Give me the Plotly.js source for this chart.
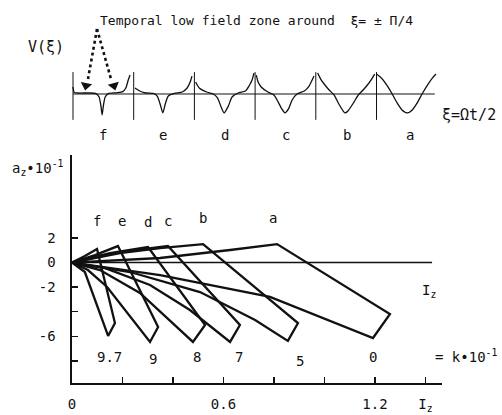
<!DOCTYPE html>
<html><head><meta charset="utf-8">
<script src="https://cdn.plot.ly/plotly-3.0.1.min.js"></script>
<style>html,body{margin:0;padding:0;background:#fff}#chart{width:502px;height:415px}</style>
</head><body><div id="chart"></div>
<script>
// ---------- top panel: V(xi) waveforms, one panel per case (u = position within panel, v = V) ----------
const panelNames = ['f', 'e', 'd', 'c', 'b', 'a'];
const fU = [0, 0.02, 0.08, 0.25, 0.38, 0.43, 0.46, 0.48, 0.50, 0.53, 0.58, 0.72, 0.82, 0.87, 0.91, 0.94];
const fV = [0.35, 0.08, 0.05, 0.05, 0.02, -0.15, -0.6, -1.05, -0.6, -0.15, 0.02, 0.06, 0.12, 0.3, 0.7, 0.95];
const eU = [0.02, 0.1, 0.2, 0.34, 0.39, 0.44, 0.48, 0.52, 0.57, 0.67, 0.8, 0.88, 0.93, 0.96];
const eV = [0.3, 0.15, 0.05, 0.02, -0.12, -0.55, -0.95, -0.5, -0.1, 0.03, 0.1, 0.3, 0.6, 0.9];
const dU = [0.02, 0.08, 0.2, 0.31, 0.38, 0.44, 0.49, 0.56, 0.62, 0.72, 0.84, 0.9, 0.95, 0.98];
const dV = [0.6, 0.3, 0.1, 0.0, -0.2, -0.65, -0.95, -0.6, -0.15, 0.05, 0.15, 0.4, 0.7, 1.05];
const cU = [0.02, 0.05, 0.1, 0.21, 0.31, 0.37, 0.44, 0.49, 0.55, 0.61, 0.69, 0.81, 0.89, 0.94, 0.97];
const cV = [0.95, 0.6, 0.35, 0.1, -0.05, -0.35, -0.75, -0.95, -0.75, -0.3, 0.0, 0.15, 0.4, 0.7, 0.9];
const bU = [0.03, 0.08, 0.15, 0.22, 0.3, 0.38, 0.45, 0.48, 0.53, 0.62, 0.7, 0.78, 0.85, 0.92, 0.97];
const bV = [1.05, 0.75, 0.45, 0.2, -0.05, -0.5, -0.85, -0.95, -0.85, -0.45, -0.05, 0.2, 0.45, 0.75, 1.0];
const aU = [0, 0.08, 0.17, 0.25, 0.34, 0.42, 0.51, 0.59, 0.66, 0.75, 0.85, 0.92, 0.98];
const aV = [1.0, 0.8, 0.45, 0.05, -0.45, -0.8, -0.95, -0.8, -0.5, 0.0, 0.5, 0.8, 1.0];

// ---------- bottom panel: a_z*10^-1 versus I_z, one closed contour per k ----------
const kLabels = ['9.7', '9', '8', '7', '5', '0'];
const fX = [0, 0.051, 0.099, 0.170, 0.143, 0.051, 0];
const fY = [0, 0.53, 1.10, -4.92, -5.97, -0.77, 0];
const eX = [0, 0.091, 0.182, 0.341, 0.309, 0.139, 0.063, 0];
const eY = [0, 0.61, 1.34, -5.24, -6.46, -1.99, -0.61, 0];
const dX = [0, 0.150, 0.301, 0.527, 0.479, 0.269, 0.111, 0];
const dY = [0, 0.77, 1.26, -5.08, -6.46, -2.48, -0.61, 0];
const cX = [0, 0.190, 0.380, 0.665, 0.626, 0.467, 0.309, 0.131, 0];
const cY = [0, 0.85, 1.34, -5.08, -6.46, -3.86, -1.83, -0.45, 0];
const bX = [0, 0.190, 0.349, 0.519, 0.895, 0.855, 0.725, 0.507, 0.230, 0];
const bY = [0, 0.77, 1.18, 1.50, -4.92, -6.37, -4.67, -2.40, -0.77, 0];
const aX = [0, 0.349, 0.626, 0.812, 1.259, 1.192, 0.784, 0.349, 0];
const aY = [0, 0.37, 1.02, 1.50, -4.19, -6.14, -2.80, -1.02, 0];

const xTickVals = [0, 0.6, 1.2, 1.4];
const xTickText = ['0', '0.6', '1.2', 'I<sub>z</sub>'];
const xMinorVals = [0.2, 0.4, 0.8, 1.0];
const yTickVals = [-6, -2, 0, 2];
const yTickText = ['-6', '-2', '0', '2'];
const yMinorVals = [-8, -4];

const FONT = 'DejaVu Sans Mono, Liberation Mono, monospace';
const INK = '#111';
// pixel -> paper helpers (plot area spans x 72..442, y 0..383)
const PX = p => (p - 72) / 370;
const PY = p => (383 - p) / 383;

const traces = [];
const waves = [[fU, fV], [eU, eV], [dU, dV], [cU, cV], [bU, bV], [aU, aV]];
waves.forEach((w, i) => {
  traces.push({
    x: w[0].map(u => i + u), y: w[1], xaxis: 'x2', yaxis: 'y2',
    mode: 'lines', line: { color: INK, width: 1.3, shape: 'spline', smoothing: 0.6 },
    hoverinfo: 'skip'
  });
});
const contours = [[fX, fY], [eX, eY], [dX, dY], [cX, cY], [bX, bY], [aX, aY]];
contours.forEach(cn => {
  traces.push({
    x: cn[0], y: cn[1], xaxis: 'x', yaxis: 'y', mode: 'lines',
    line: { color: INK, width: 2.3 }, hoverinfo: 'skip'
  });
});
// arrowheads of the two dotted pointers (placed in the waveform panel frame)
traces.push({
  x: [0.214, 0.675], y: [0.42, 0.42], xaxis: 'x2', yaxis: 'y2', mode: 'markers', cliponaxis: false,
  marker: { symbol: 'triangle-down', size: 10, color: INK, angle: [11, -16], line: { width: 0 } },
  hoverinfo: 'skip'
});

const shapes = [];
// separators between waveform panels
for (let i = 0; i < 6; i++) {
  shapes.push({ type: 'line', xref: 'x2', yref: 'y2', x0: i, x1: i, y0: 1.1, y1: -1.3,
    line: { color: INK, width: 1 } });
}
// baseline of the waveform panel
shapes.push({ type: 'line', xref: 'x2', yref: 'y2', x0: 0, x1: 5.96, y0: 0, y1: 0, line: { color: INK, width: 1 } });
// I_z reference line
shapes.push({ type: 'line', xref: 'x', yref: 'y', x0: 0, x1: 1.426, y0: 0, y1: 0, line: { color: INK, width: 1.5 } });
// dotted pointers
shapes.push({ type: 'line', xref: 'paper', yref: 'paper', x0: PX(97), y0: PY(29), x1: PX(88), y1: PY(79), line: { color: INK, width: 2.6, dash: 'dot' } });
shapes.push({ type: 'line', xref: 'paper', yref: 'paper', x0: PX(97), y0: PY(29), x1: PX(111), y1: PY(79), line: { color: INK, width: 2.6, dash: 'dot' } });

const ann = [];
const txt = (x, y, text, size, extra) => Object.assign({ xref: 'paper', yref: 'paper', x: x, y: y, text: text,
  showarrow: false, font: { family: FONT, size: size, color: INK }, xanchor: 'center', yanchor: 'middle' }, extra || {});
ann.push(txt(PX(256), PY(20), 'Temporal low field zone around  ξ= ± Π/4', 13));
ann.push(txt(PX(46), PY(47), 'V(ξ)', 15));
ann.push(txt(PX(469), PY(115), 'ξ=Ωt/2', 15));
const panelLabelX = [103, 163, 225, 286, 347, 410];
panelNames.forEach((n, i) => ann.push(txt(PX(panelLabelX[i]), PY(135), n, 14)));
ann.push(txt(PX(38), PY(168), 'a<sub>z</sub>•10<sup>-1</sup>', 14));
ann.push(txt(PX(466), PY(356), '= k•10<sup>-1</sup>', 14));
// contour labels (letters on top corners, k values below)
const letterX = [0.098, 0.198, 0.301, 0.380, 0.519, 0.796];
const letterY = [3.4, 3.4, 3.3, 3.4, 3.6, 3.6];
panelNames.forEach((n, i) => ann.push({ xref: 'x', yref: 'y', x: letterX[i], y: letterY[i], text: n, showarrow: false,
  font: { family: FONT, size: 14, color: INK } }));
const kX = [0.150, 0.321, 0.495, 0.661, 0.903, 1.192];
const kY = [-7.7, -7.85, -7.7, -7.65, -8.0, -7.65];
kLabels.forEach((k, i) => ann.push({ xref: 'x', yref: 'y', x: kX[i], y: kY[i], text: k, showarrow: false,
  font: { family: FONT, size: 14, color: INK } }));
ann.push({ xref: 'x', yref: 'y', x: 1.412, y: -2.3, text: 'I<sub>z</sub>', showarrow: false,
  font: { family: FONT, size: 14, color: INK } });

const layout = {
  width: 502, height: 415,
  margin: { l: 72, r: 60, t: 0, b: 32, pad: 0 },
  paper_bgcolor: '#fff', plot_bgcolor: '#fff',
  showlegend: false,
  font: { family: FONT, size: 14, color: INK },
  xaxis: { domain: [0, 1], range: [0, 1.4653], showgrid: false, zeroline: false, showline: true,
    linecolor: INK, linewidth: 1.6, ticks: 'inside', ticklen: 6, tickwidth: 1.3, tickcolor: INK,
    tickmode: 'array', tickvals: xTickVals, ticktext: xTickText, ticklabelstandoff: 8,
    minor: { tickmode: 'array', tickvals: xMinorVals, ticks: 'inside', ticklen: 6, tickwidth: 1.3, tickcolor: INK, showgrid: false },
    tickfont: { family: FONT, size: 14, color: INK }, fixedrange: true, anchor: 'y' },
  yaxis: { domain: [0, 0.595], range: [-9.8, 8.74], showgrid: false, zeroline: false, showline: true,
    linecolor: INK, linewidth: 1.6, ticks: 'inside', ticklen: 6, tickwidth: 1.3, tickcolor: INK,
    tickmode: 'array', tickvals: yTickVals, ticktext: yTickText, ticklabelstandoff: 12,
    minor: { tickmode: 'array', tickvals: yMinorVals, ticks: 'inside', ticklen: 6, tickwidth: 1.3, tickcolor: INK, showgrid: false },
    tickfont: { family: FONT, size: 14, color: INK }, fixedrange: true, anchor: 'x' },
  xaxis2: { domain: [0, 1], range: [-0.0165, 6.079], visible: false, anchor: 'y2', fixedrange: true },
  yaxis2: { domain: [0.661, 0.843], range: [-1.8, 1.7], visible: false, anchor: 'x2', fixedrange: true },
  shapes: shapes,
  annotations: ann
};

Plotly.newPlot('chart', traces, layout, { staticPlot: true, displayModeBar: false });
</script></body></html>
